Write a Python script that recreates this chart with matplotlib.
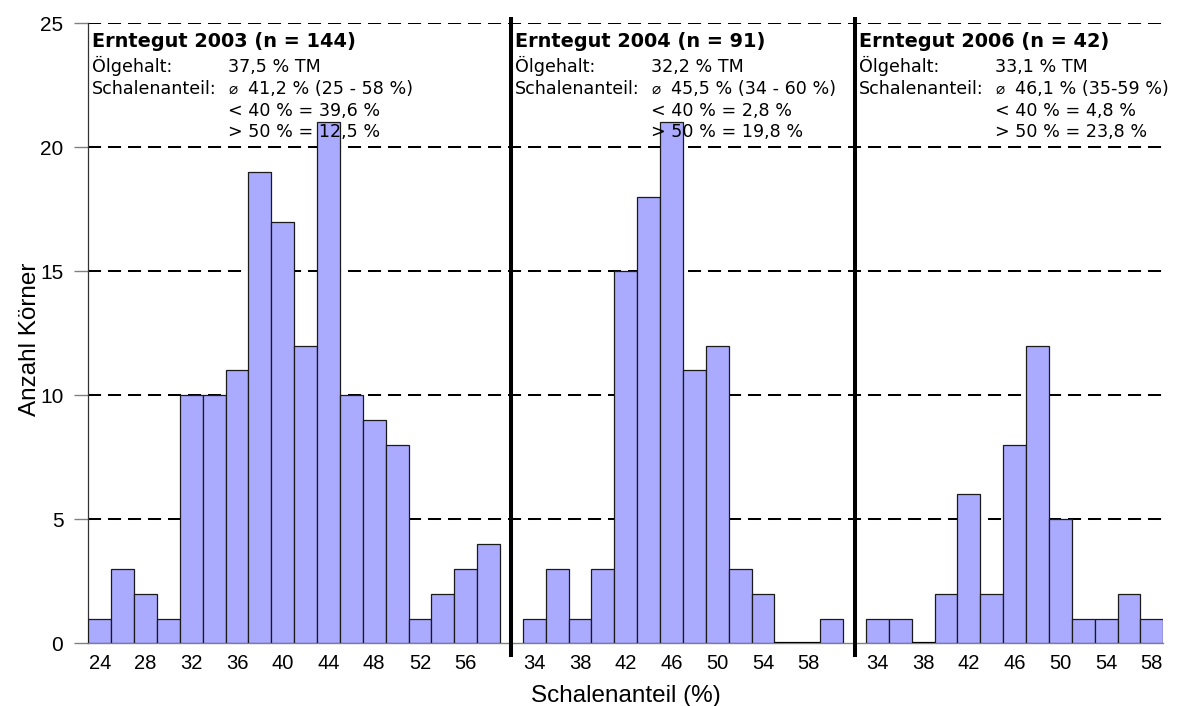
import matplotlib
matplotlib.use("Agg")
import matplotlib.pyplot as plt

plt.rcParams['font.family'] = ['Liberation Sans', 'DejaVu Sans']
plt.rcParams['lines.scale_dashes'] = False

# Number of kernels per hull-fraction class (2 %-classes), per harvest
classes_2003 = [24, 26, 28, 30, 32, 34, 36, 38, 40, 42, 44, 46, 48, 50, 52, 54, 56, 58]
counts_2003 = [1, 3, 2, 1, 10, 10, 11, 19, 17, 12, 21, 10, 9, 8, 1, 2, 3, 4]

classes_2004 = [34, 36, 38, 40, 42, 44, 46, 48, 50, 52, 54, 56, 58, 60]
counts_2004 = [1, 3, 1, 3, 15, 18, 21, 11, 12, 3, 2, 0, 0, 1]

classes_2006 = [34, 36, 38, 40, 42, 44, 46, 48, 50, 52, 54, 56, 58]
counts_2006 = [1, 1, 0, 2, 6, 2, 8, 12, 5, 1, 1, 2, 1]

# Summary text per harvest
titles = ["Erntegut 2003 (n = 144)", "Erntegut 2004 (n = 91)", "Erntegut 2006 (n = 42)"]
oil_content = ["37,5 % TM", "32,2 % TM", "33,1 % TM"]
hull_mean = ["41,2 % (25 - 58 %)", "45,5 % (34 - 60 %)", "46,1 % (35-59 %)"]
share_below_40 = ["< 40 % = 39,6 %", "< 40 % = 2,8 %", "< 40 % = 4,8 %"]
share_above_50 = ["> 50 % = 12,5 %", "> 50 % = 19,8 %", "> 50 % = 23,8 %"]

y_ticks = [0, 5, 10, 15, 20, 25]

groups = [(classes_2003, counts_2003), (classes_2004, counts_2004), (classes_2006, counts_2006)]

fig = plt.figure(figsize=(11.87, 7.06), dpi=100)
ax = fig.add_axes([0.07439, 0.08881, 0.90564, 0.87819])

# lay the three harvests out on one category axis, one empty slot between them
tick_pos, tick_lab, separators = [], [], []
slot = 0
for gi, (cls, cnt) in enumerate(groups):
    if gi > 0:
        separators.append(slot)
        slot += 1
    pos = list(range(slot, slot + len(cls)))
    bars = ax.bar(pos, cnt, width=1.0, color='#AAAAFF', edgecolor='#1a1a1a',
                  linewidth=0.9, zorder=3)
    # empty classes still show their outline along the baseline
    for b, c in zip(bars, cnt):
        if c == 0:
            b.set_linewidth(1.6)
            b.set_edgecolor('black')
    for p, c in list(zip(pos, cls))[::2]:
        tick_pos.append(p)
        tick_lab.append(str(c))
    slot += len(cls)
n_slots = slot

ax.set_xlim(-0.5, n_slots - 0.5)
ax.set_ylim(0, 25)

# dashed horizontal grid
ax.hlines(y_ticks[1:], -0.5, n_slots - 0.5, colors='black', linewidth=1.45,
          linestyles=[(0, (9.4, 5.0))], zorder=1)

# thick separators between the harvests
ax.vlines(separators, -0.55, 25.25, colors='black', linewidth=2.9,
          zorder=4, clip_on=False)

ax.set_yticks(y_ticks)
ax.set_xticks(tick_pos)
ax.set_xticklabels(tick_lab)
ax.tick_params(axis='y', direction='out', length=10, width=1.0, color='#808080',
               labelsize=15, pad=8)
ax.tick_params(axis='x', length=0, labelsize=14.5, pad=8)

for s in ['top', 'right']:
    ax.spines[s].set_visible(False)
ax.spines['left'].set_color('#333333')
ax.spines['left'].set_linewidth(0.9)
ax.spines['bottom'].set_color('#808080')
ax.spines['bottom'].set_linewidth(1.0)

ax.set_xlabel("Schalenanteil (%)", fontsize=17.5)
ax.xaxis.label.set_va('baseline')
ax.xaxis.set_label_coords(0.5, -0.0945)
ax.set_ylabel("Anzahl Körner", fontsize=17.5)
ax.yaxis.set_label_coords(-0.054, 0.49)
ax.yaxis.label.set_va('center')

# summary text blocks
text_x = [-0.34, 18.16, 33.2]
col_off = 5.95
sym_off = 0.88
rows = [24.056, 23.048, 22.157, 21.282, 20.407]
fam = ['DejaVu Sans']
for i in range(3):
    x0 = text_x[i]
    x1 = x0 + col_off
    ax.text(x0, rows[0], titles[i], fontsize=13.9, fontweight='bold',
            family=fam, va='baseline', ha='left', zorder=5)
    ax.text(x0, rows[1], "Ölgehalt:", fontsize=12.6, family=fam,
            va='baseline', ha='left', zorder=5)
    ax.text(x1, rows[1], oil_content[i], fontsize=12.6, family=fam,
            va='baseline', ha='left', zorder=5)
    ax.text(x0, rows[2], "Schalenanteil:", fontsize=12.6, family=fam,
            va='baseline', ha='left', zorder=5)
    ax.text(x1, rows[2], "\u2300", fontsize=11, family=fam,
            va='baseline', ha='left', zorder=5)
    ax.text(x1 + sym_off, rows[2], hull_mean[i], fontsize=12.6, family=fam,
            va='baseline', ha='left', zorder=5)
    ax.text(x1, rows[3], share_below_40[i], fontsize=12.6, family=fam,
            va='baseline', ha='left', zorder=5)
    ax.text(x1, rows[4], share_above_50[i], fontsize=12.6, family=fam,
            va='baseline', ha='left', zorder=5)

fig.savefig("out.png", dpi=100)
